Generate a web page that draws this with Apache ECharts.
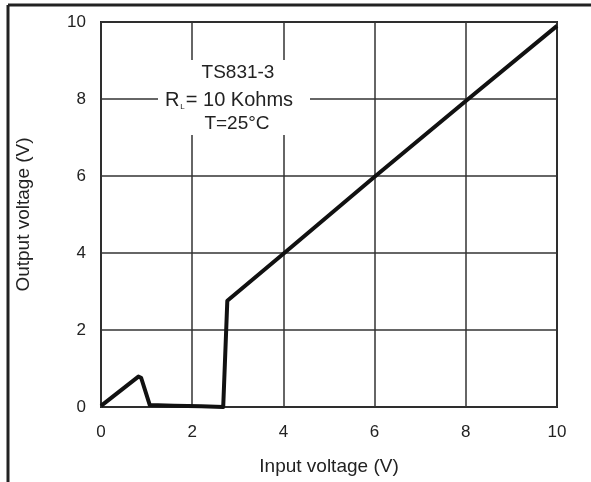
<!DOCTYPE html>
<html>
<head>
<meta charset="utf-8">
<script src="https://cdn.jsdelivr.net/npm/echarts@6/dist/echarts.min.js"></script>
<style>
  html, body { margin: 0; padding: 0; background: #fff; }
  #chart { width: 591px; height: 482px; }
</style>
</head>
<body>
<div id="chart"></div>
<script>
// Transfer characteristic: input voltage (V) vs output voltage (V)
var inputVoltage  = [0.0, 0.82, 0.88, 1.07, 1.6, 2.2, 2.68, 2.77, 4.0, 6.0, 8.0, 10.0];
var outputVoltage = [0.03, 0.79, 0.76, 0.05, 0.03, 0.02, 0.0, 2.76, 3.98, 5.98, 7.95, 9.9];
var xTicks = [0, 2, 4, 6, 8, 10];
var yTicks = [0, 2, 4, 6, 8, 10];
var annotationLines = ['TS831-3', 'R', 'L', '= 10 Kohms', 'T=25°C'];

var points = inputVoltage.map(function (v, i) { return [v, outputVoltage[i]]; });

var FONT = 'Liberation Sans, Arial, sans-serif';
var chart = echarts.init(document.getElementById('chart'), null, { renderer: 'canvas' });

chart.setOption({
  animation: false,
  backgroundColor: '#fff',
  grid: {
    left: 101, right: 34, top: 22, bottom: 75,
    show: true, borderColor: '#222', borderWidth: 2, backgroundColor: 'transparent'
  },
  xAxis: {
    type: 'value',
    min: xTicks[0], max: xTicks[xTicks.length - 1], interval: 2,
    name: 'Input voltage (V)', nameLocation: 'middle', nameGap: 50,
    nameTextStyle: { fontFamily: FONT, fontSize: 19, color: '#222' },
    axisLine: { show: false },
    axisTick: { show: false },
    axisLabel: { margin: 17, fontFamily: FONT, fontSize: 17, color: '#222' },
    splitLine: { show: true, lineStyle: { color: '#333', width: 1.5 } }
  },
  yAxis: {
    type: 'value',
    min: yTicks[0], max: yTicks[yTicks.length - 1], interval: 2,
    name: 'Output voltage (V)', nameLocation: 'middle', nameGap: 68,
    nameTextStyle: { fontFamily: FONT, fontSize: 19, color: '#222' },
    axisLine: { show: false },
    axisTick: { show: false },
    axisLabel: { margin: 15, fontFamily: FONT, fontSize: 17, color: '#222' },
    splitLine: { show: true, lineStyle: { color: '#333', width: 1.5 } }
  },
  series: [{
    type: 'line',
    data: points,
    showSymbol: false,
    lineStyle: { color: '#111', width: 4, join: 'round' },
    z: 3
  }],
  graphic: [
    // outer frame (top and left edges)
    { type: 'line', shape: { x1: 8, y1: 5, x2: 591, y2: 5 }, style: { stroke: '#222', lineWidth: 3 }, z: 10 },
    { type: 'line', shape: { x1: 8, y1: 5, x2: 8, y2: 482 }, style: { stroke: '#222', lineWidth: 3 }, z: 10 },
    // label backdrop
    { type: 'rect', shape: { x: 158, y: 60, width: 152, height: 75 }, style: { fill: '#fff' }, z: 5 },
    { type: 'text', x: 238, y: 73, z: 6,
      style: { text: annotationLines[0], font: '19px ' + FONT, fill: '#222', align: 'center', verticalAlign: 'middle' } },
    { type: 'text', x: 229, y: 100, z: 6,
      style: {
        text: '{a|' + annotationLines[1] + '}{s|' + annotationLines[2] + '}{a|' + annotationLines[3] + '}',
        align: 'center', verticalAlign: 'middle',
        rich: {
          a: { fontFamily: FONT, fontSize: 20, fill: '#222', lineHeight: 22 },
          s: { fontFamily: FONT, fontSize: 8, fill: '#222', lineHeight: 22, verticalAlign: 'bottom', padding: [10, 1, 0, 1] }
        }
      } },
    { type: 'text', x: 237, y: 124, z: 6,
      style: { text: annotationLines[4], font: '19px ' + FONT, fill: '#222', align: 'center', verticalAlign: 'middle' } }
  ]
});
</script>
</body>
</html>
